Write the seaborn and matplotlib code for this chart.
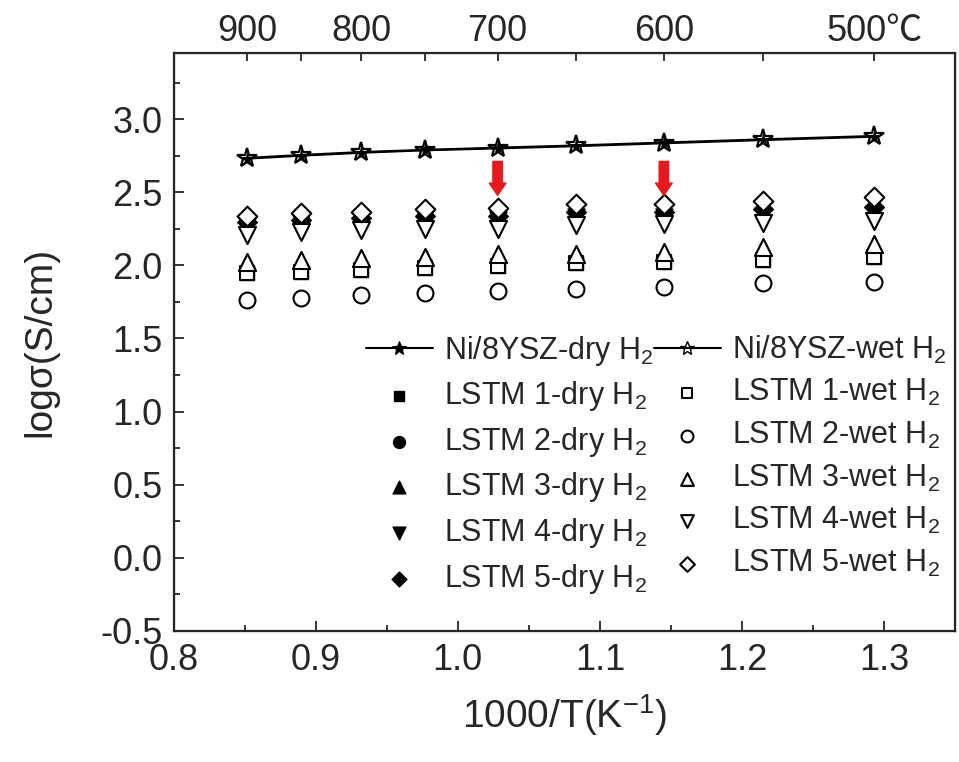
import matplotlib
matplotlib.use("Agg")
import matplotlib.pyplot as plt
import seaborn as sns
from matplotlib.ticker import MultipleLocator

sns.set_style("ticks")
plt.rcParams['font.family'] = ['Liberation Sans', 'Noto Sans CJK SC', 'DejaVu Sans']
plt.rcParams['mathtext.fontset'] = 'custom'
plt.rcParams['mathtext.rm'] = 'Liberation Sans'
plt.rcParams['mathtext.it'] = 'Liberation Sans'
plt.rcParams['axes.unicode_minus'] = False

# 1000/T положения точек (900 ... 500 °C)
x_vals = [0.852, 0.890, 0.932, 0.977, 1.028, 1.083, 1.145, 1.215, 1.293]

ni_dry = [2.730, 2.750, 2.770, 2.787, 2.800, 2.815, 2.835, 2.857, 2.880]
ni_wet = [2.735, 2.755, 2.775, 2.790, 2.805, 2.820, 2.840, 2.862, 2.885]

lstm1_dry = [1.946, 1.956, 1.967, 1.979, 1.997, 2.013, 2.020, 2.040, 2.058]
lstm1_wet = [1.946, 1.956, 1.967, 1.979, 1.997, 2.013, 2.020, 2.040, 2.058]
lstm2_dry = [1.764, 1.775, 1.798, 1.813, 1.827, 1.836, 1.850, 1.877, 1.888]
lstm2_wet = [1.764, 1.775, 1.798, 1.813, 1.827, 1.836, 1.850, 1.877, 1.888]
lstm3_dry = [2.024, 2.040, 2.047, 2.058, 2.076, 2.080, 2.092, 2.126, 2.149]
lstm3_wet = [2.024, 2.040, 2.047, 2.058, 2.076, 2.080, 2.092, 2.126, 2.149]
lstm4_dry = [2.270, 2.290, 2.307, 2.318, 2.307, 2.330, 2.330, 2.340, 2.352]
lstm4_wet = [2.205, 2.228, 2.239, 2.250, 2.250, 2.273, 2.284, 2.289, 2.302]
lstm5_dry = [2.300, 2.310, 2.325, 2.340, 2.340, 2.364, 2.364, 2.386, 2.398]
lstm5_wet = [2.340, 2.357, 2.368, 2.386, 2.393, 2.420, 2.420, 2.443, 2.465]

# верхняя ось: температуры
top_ticks = [0.852, 0.890, 0.932, 0.977, 1.028, 1.083, 1.145, 1.215, 1.293]
top_labels = ['900', '', '800', '', '700', '', '600', '', '500℃']

# красные стрелки
arrow_x = [1.028, 1.145]
arrow_top = [2.73, 2.73]
arrow_tip = [2.46, 2.46]

fig = plt.figure(figsize=(9.59, 7.62), dpi=100)
ax = fig.add_axes([0.181, 0.172, 0.815, 0.758])

# Ni/8YSZ линии со звёздами
sns.lineplot(x=x_vals, y=ni_dry, ax=ax, color='black', lw=1.5, marker='*',
             markersize=8, markerfacecolor='black', markeredgecolor='black',
             label='Ni/8YSZ-dry H$_2$', zorder=3)
sns.lineplot(x=x_vals, y=ni_wet, ax=ax, color='black', lw=1.5, marker='*',
             markersize=15, markerfacecolor='none', markeredgecolor='black',
             markeredgewidth=1.6, label='Ni/8YSZ-wet H$_2$', zorder=4)

dry = [(lstm1_dry, 's', 110), (lstm2_dry, 'o', 130), (lstm3_dry, '^', 150),
       (lstm4_dry, 'v', 150), (lstm5_dry, 'D', 100)]
wet = [(lstm1_wet, 's', 110), (lstm2_wet, 'o', 130), (lstm3_wet, '^', 150),
       (lstm4_wet, 'v', 150), (lstm5_wet, 'D', 100)]

for i, (vals, m, s) in enumerate(dry):
    sns.scatterplot(x=x_vals, y=vals, ax=ax, marker=m, s=s, color='black',
                    edgecolor='black', linewidth=1, label=f'LSTM {i+1}-dry H$_2$',
                    zorder=5)
for i, (vals, m, s) in enumerate(wet):
    sns.scatterplot(x=x_vals, y=vals, ax=ax, marker=m, s=s, facecolor='white',
                    edgecolor='black', linewidth=1.5, label=f'LSTM {i+1}-wet H$_2$',
                    zorder=6)

for xa, y0, y1 in zip(arrow_x, arrow_top, arrow_tip):
    ax.annotate('', xy=(xa, y1), xytext=(xa, y0),
                arrowprops=dict(arrowstyle='simple,head_length=0.55,head_width=0.75,tail_width=0.42',
                                color='#e8191c', mutation_scale=16), zorder=7)

ax.set_xlim(0.8, 1.35)
ax.set_ylim(-0.5, 3.45)
ax.xaxis.set_major_locator(MultipleLocator(0.1))
ax.xaxis.set_minor_locator(MultipleLocator(0.05))
ax.yaxis.set_minor_locator(MultipleLocator(0.25))
ax.set_yticks([-0.5, 0.0, 0.5, 1.0, 1.5, 2.0, 2.5, 3.0])
ax.tick_params(which='both', direction='in', labelsize=26, width=1.3, right=False, top=False)
ax.tick_params(which='major', length=7)
ax.tick_params(which='minor', length=4)
ax.tick_params(axis='x', pad=9)
ax.tick_params(axis='y', pad=8)
for sp in ax.spines.values():
    sp.set_linewidth(1.6)
    sp.set_visible(True)

ax.set_xlabel('1000/T(K$^{-1}$)', fontsize=28, labelpad=10)
ax.set_ylabel('logσ(S/cm)', fontsize=28, labelpad=30)

top = ax.twiny()
top.set_xlim(ax.get_xlim())
top.set_xticks(top_ticks)
top.set_xticklabels(top_labels)
top.tick_params(direction='in', length=6, width=1.3, labelsize=26, pad=3)

h, l = ax.get_legend_handles_labels()
order = ['Ni/8YSZ-dry H$_2$'] + [f'LSTM {i}-dry H$_2$' for i in range(1, 6)] + \
        ['Ni/8YSZ-wet H$_2$'] + [f'LSTM {i}-wet H$_2$' for i in range(1, 6)]
hd = dict(zip(l, h))
leg = ax.legend([hd[k] for k in order], order, ncol=2, frameon=False, fontsize=22,
                loc='lower right', bbox_to_anchor=(1.005, 0.04), borderaxespad=0,
                markerscale=0.75, handlelength=2.2, handletextpad=0.36,
                columnspacing=0.0, labelspacing=0.38)
# звёзды в легенде одинакового размера
leg.legend_handles[0].set_markersize(10)
leg.legend_handles[6].set_markersize(10)
leg.legend_handles[6].set_markeredgewidth(1.0)

plt.savefig("out.png", dpi=100)
